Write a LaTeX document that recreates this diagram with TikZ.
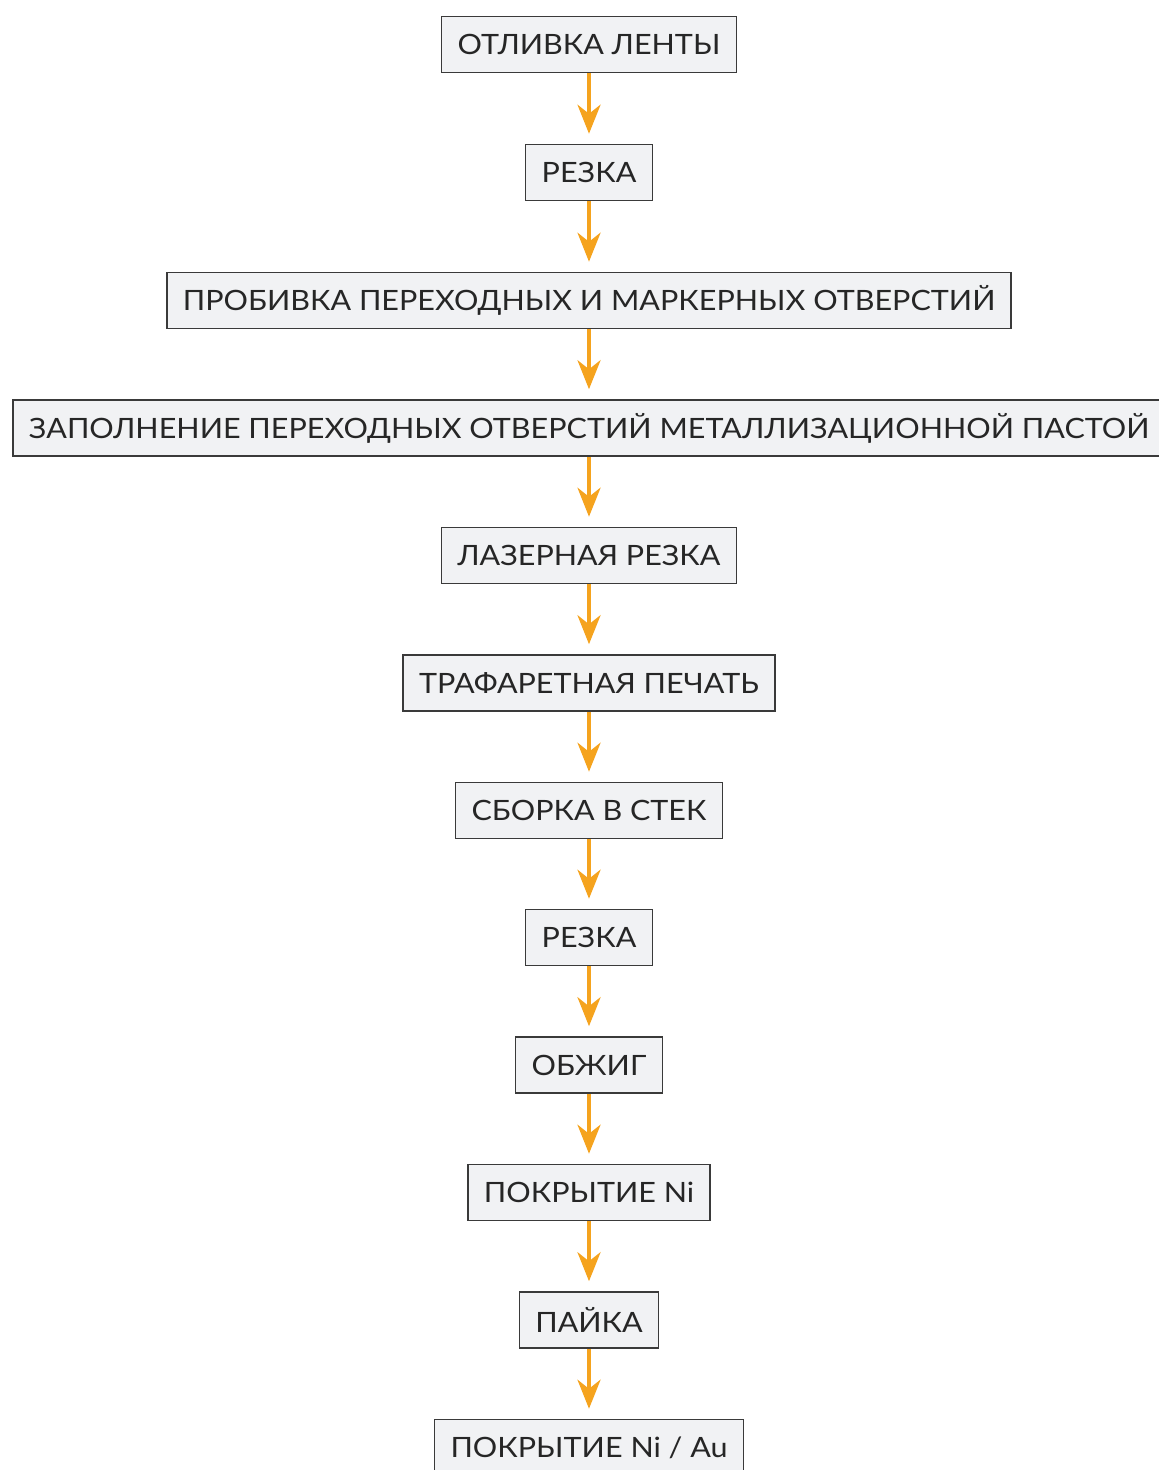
\documentclass[tikz,border=0pt]{standalone}
\usepackage{fontspec}
\setmainfont{Lato}[FakeStretch=1.09]
\usetikzlibrary{arrows.meta}
\definecolor{boxfill}{HTML}{F1F2F4}
\definecolor{boxline}{HTML}{3A3A3A}
\definecolor{arroworange}{HTML}{F5A31E}

\begin{document}
\begin{tikzpicture}[x=1pt,y=1pt,
  stepbox/.style={draw=boxline,fill=boxfill,line width=1.5pt,minimum height=56pt,
    inner xsep=16pt,font=\fontsize{28}{32}\selectfont,text=black!85},
  flowarrow/.style={draw=arroworange,line width=4pt,shorten >=10pt,
    -{Stealth[length=29pt,width=23pt,inset=9pt]}}]
\useasboundingbox (0,0) rectangle (1159,-1470);
\clip (0,0) rectangle (1159,-1470);

\node[stepbox] (otlivka) at (589,-44.5) {ОТЛИВКА ЛЕНТЫ};
\node[stepbox] (rezka) at (589,-172.5) {РЕЗКА};
\node[stepbox] (probivka) at (589,-300.5) {ПРОБИВКА ПЕРЕХОДНЫХ И МАРКЕРНЫХ ОТВЕРСТИЙ};
\node[stepbox] (zapolnenie) at (589,-428) {ЗАПОЛНЕНИЕ ПЕРЕХОДНЫХ ОТВЕРСТИЙ МЕТАЛЛИЗАЦИОННОЙ ПАСТОЙ};
\node[stepbox] (lazer) at (589,-555.5) {ЛАЗЕРНАЯ РЕЗКА};
\node[stepbox] (pechat) at (589,-683) {ТРАФАРЕТНАЯ ПЕЧАТЬ};
\node[stepbox] (sborka) at (589,-810.5) {СБОРКА В СТЕК};
\node[stepbox] (rezkatwo) at (589,-937.5) {РЕЗКА};
\node[stepbox] (obzhig) at (589,-1065) {ОБЖИГ};
\node[stepbox] (ni) at (589,-1192.5) {ПОКРЫТИЕ Ni};
\node[stepbox] (pajka) at (589,-1320) {ПАЙКА};
\node[stepbox] (niau) at (589,-1447.5) {ПОКРЫТИЕ Ni / Au};

\draw[flowarrow] (otlivka) -- (rezka);
\draw[flowarrow] (rezka) -- (probivka);
\draw[flowarrow] (probivka) -- (zapolnenie);
\draw[flowarrow] (zapolnenie) -- (lazer);
\draw[flowarrow] (lazer) -- (pechat);
\draw[flowarrow] (pechat) -- (sborka);
\draw[flowarrow] (sborka) -- (rezkatwo);
\draw[flowarrow] (rezkatwo) -- (obzhig);
\draw[flowarrow] (obzhig) -- (ni);
\draw[flowarrow] (ni) -- (pajka);
\draw[flowarrow] (pajka) -- (niau);
\end{tikzpicture}
\end{document}
